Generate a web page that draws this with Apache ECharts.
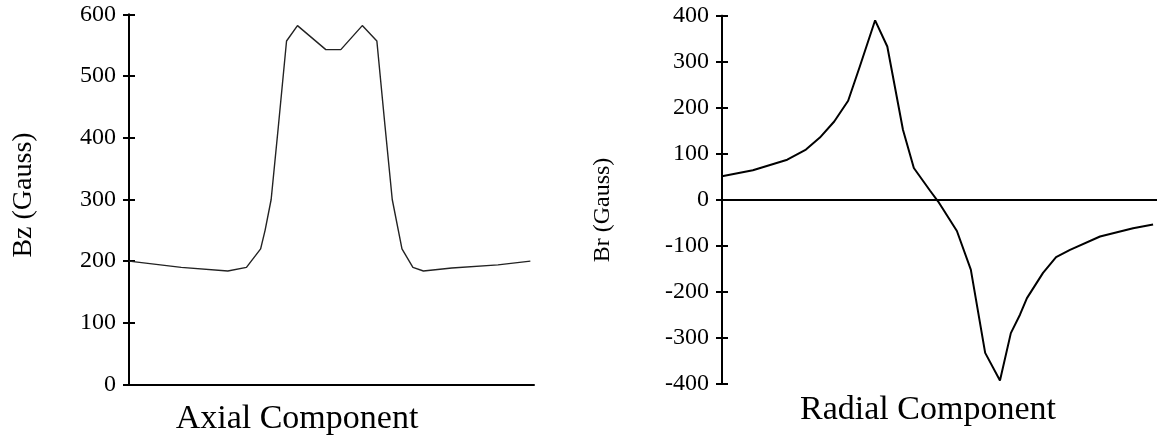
<!DOCTYPE html>
<html>
<head>
<meta charset="utf-8">
<title>Axial and Radial Components</title>
<script src="https://cdn.jsdelivr.net/npm/echarts@6/dist/echarts.min.js"></script>
<style>
  html, body { margin: 0; padding: 0; background: #fff; }
  #chart { width: 1157px; height: 444px; }
</style>
</head>
<body>
<div id="chart"></div>
<script>
// axial component (left panel): position along the axis (0-100) and Bz in gauss
const axialPos = [0, 12.9, 24.4, 29.0, 32.5, 33.6, 35.1, 36.9, 38.9, 41.6, 48.6, 52.3, 57.6, 61.2, 63.2, 65.0, 66.5, 67.4, 70.1, 72.7, 79.7, 91.1, 99.1]
const axialBz = [200, 190, 184, 190, 220, 250, 300, 420, 557, 582, 543, 543, 582, 557, 420, 300, 250, 220, 190, 184, 189, 194, 200]
const bzTicks = [0, 100, 200, 300, 400, 500, 600]

// radial component (right panel): position (0-100) and Br in gauss
const radialPos = [0, 7.1, 15.0, 19.3, 22.5, 25.8, 29.0, 31.7, 35.2, 38.0, 41.6, 44.1, 47.8, 49.7, 54.0, 57.2, 60.5, 63.9, 66.4, 68.5, 70.1, 73.8, 76.8, 80.0, 86.9, 94.5, 99.1]
const radialBr = [51, 64, 87, 109, 135, 170, 215, 290, 390, 333, 152, 69, 20, -4, -68, -152, -333, -393, -290, -250, -214, -159, -125, -109, -80, -62, -54]
const brTicks = [-400, -300, -200, -100, 0, 100, 200, 300, 400]

const font = 'Liberation Serif'
const ink = '#000'

const chart = echarts.init(document.getElementById('chart'))

const leftRect = { left: 129, top: 14.5, width: 405, height: 370 }
const rightRect = { left: 722, top: 15.7, width: 435, height: 368 }

function hiddenX(gridIndex) {
  return { type: 'value', gridIndex, min: 0, max: 100, show: false }
}

// each panel gets two stacked y axes so the ticks cross the axis line
function valueY(gridIndex, ticks, inside, withLabels, pad) {
  return {
    type: 'value',
    gridIndex,
    position: 'left',
    min: ticks[0],
    max: ticks[ticks.length - 1],
    interval: ticks[1] - ticks[0],
    axisLine: { show: true, onZero: false, lineStyle: { color: ink, width: 2 } },
    axisTick: { show: true, inside, length: 6, lineStyle: { color: ink, width: 2 } },
    axisLabel: {
      show: withLabels,
      color: ink,
      fontFamily: font,
      fontSize: 24,
      margin: 13,
      padding: [pad, 0, 0, 0],
    },
    splitLine: { show: false },
  }
}

chart.setOption({
  animation: false,
  backgroundColor: '#fff',
  grid: [
    { ...leftRect },
    { ...leftRect },
    { ...rightRect },
    { ...rightRect },
  ],
  xAxis: [
    {
      type: 'value', gridIndex: 0, min: 0, max: 100,
      axisLine: { show: true, onZero: false, lineStyle: { color: ink, width: 2 } },
      axisTick: { show: false }, axisLabel: { show: false }, splitLine: { show: false },
    },
    hiddenX(1),
    {
      type: 'value', gridIndex: 2, min: 0, max: 100,
      axisLine: { show: true, onZero: true, lineStyle: { color: ink, width: 2 } },
      axisTick: { show: false }, axisLabel: { show: false }, splitLine: { show: false },
    },
    hiddenX(3),
  ],
  yAxis: [
    valueY(0, bzTicks, false, true, 4),
    valueY(1, bzTicks, true, false, 0),
    valueY(2, brTicks, false, true, 8),
    valueY(3, brTicks, true, false, 0),
  ],
  series: [
    {
      name: 'Bz', type: 'line', xAxisIndex: 0, yAxisIndex: 0,
      data: axialPos.map((x, i) => [x, axialBz[i]]),
      showSymbol: false, lineStyle: { color: '#222', width: 1.4 },
    },
    {
      name: 'Br', type: 'line', xAxisIndex: 2, yAxisIndex: 2,
      data: radialPos.map((x, i) => [x, radialBr[i]]),
      showSymbol: false, lineStyle: { color: ink, width: 2 },
    },
  ],
  graphic: [
    { type: 'text', x: 24, y: 195, rotation: Math.PI / 2, style: { text: 'Bz (Gauss)', font: `28px "${font}"`, fill: ink, textAlign: 'center', textVerticalAlign: 'middle' } },
    { type: 'text', x: 603, y: 210, rotation: Math.PI / 2, style: { text: 'Br (Gauss)', font: `24px "${font}"`, fill: ink, textAlign: 'center', textVerticalAlign: 'middle' } },
    { type: 'text', x: 297, y: 419, style: { text: 'Axial Component', font: `34px "${font}"`, fill: ink, textAlign: 'center', textVerticalAlign: 'middle' } },
    { type: 'text', x: 928, y: 410, style: { text: 'Radial Component', font: `34px "${font}"`, fill: ink, textAlign: 'center', textVerticalAlign: 'middle' } },
  ],
})

window.addEventListener('resize', () => chart.resize())
</script>
</body>
</html>
